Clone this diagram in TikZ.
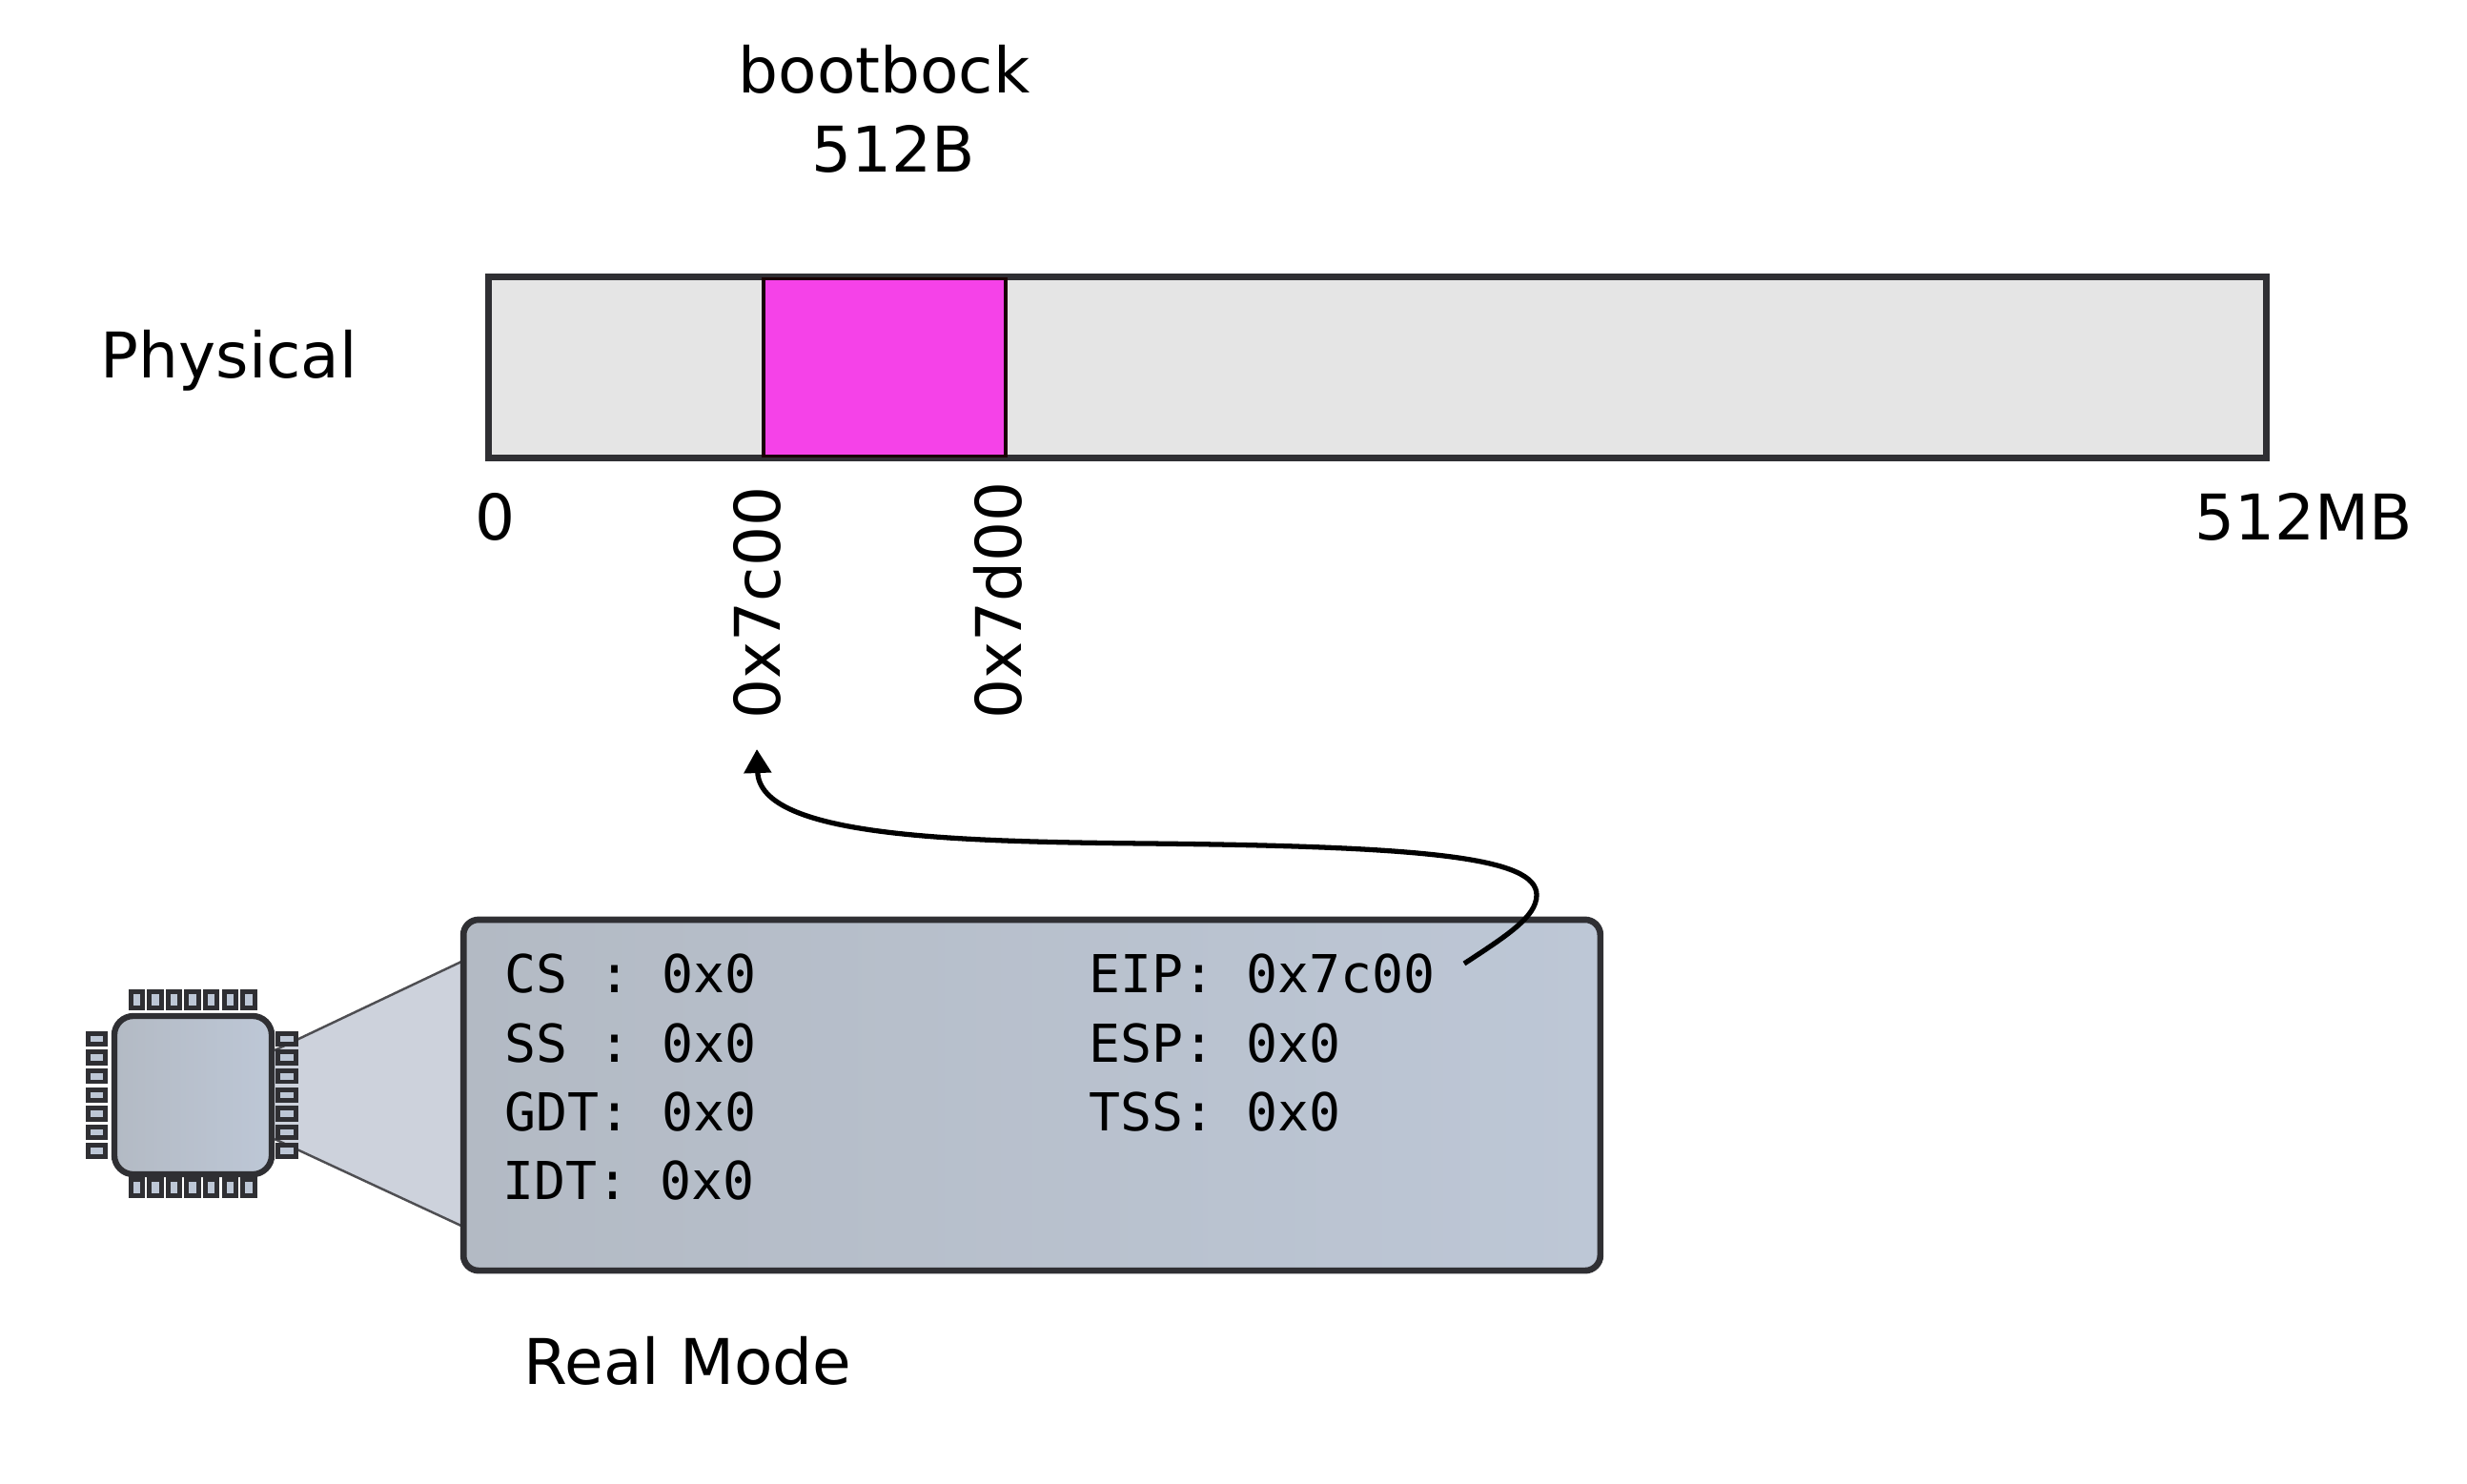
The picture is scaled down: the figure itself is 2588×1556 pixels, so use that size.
\documentclass[tikz,border=0pt]{standalone}
\usepackage{fontspec}
\setmainfont{DejaVu Sans}
\setmonofont{DejaVu Sans Mono}
\usetikzlibrary{arrows.meta, positioning}
\definecolor{edgedark}{HTML}{2F2F33}
\definecolor{chipleft}{HTML}{B3BAC4}
\definecolor{chipright}{HTML}{BDC7D6}
\definecolor{conefill}{HTML}{CDD2DC}
\definecolor{bootpink}{HTML}{F542E8}
\tikzset{
    label/.style={inner sep=0pt, font=\fontsize{18.8}{22}\selectfont, text=black},
    addr/.style={label, rotate=90, anchor=base west},
    reg/.style={inner sep=0pt, anchor=base west, font=\ttfamily\fontsize{15.6}{19}\selectfont},
    pinh/.style={draw=edgedark, line width=1.4pt, fill=chipright, minimum width=0.185cm, minimum height=0.115cm, inner sep=0pt},
    pinv/.style={draw=edgedark, line width=1.4pt, fill=chipright, minimum width=0.125cm, minimum height=0.165cm, inner sep=0pt},
}
\begin{document}
\begin{tikzpicture}[x=0.01cm,y=-0.01cm]
            \useasboundingbox (0,0) rectangle (2588,1556);

            % Physical memory bar
            \node[draw=edgedark, line width=2.1pt, fill=black!10, minimum width=18.64cm, minimum height=1.9cm, inner sep=0pt] (mem) at (1445,385.5) {};
            \node[draw=black!90!red, line width=0.95pt, fill=bootpink, minimum width=2.54cm, minimum height=1.86cm, inner sep=0pt] (boot) at (928,385.5) {};

            % Labels around the bar
            \node[label, anchor=base] (bootname) at (927.5,97) {bootbock};
            \node[label, anchor=base] (bootsize) at (937.5,180) {512B};
            \node[label, anchor=base west] (physical) at (105,396) {Physical};
            \node[label, anchor=base] (start) at (520,566) {0};
            \node[label, anchor=base west] (end) at (2302,566) {512MB};
            \node[addr] (addrc) at (818,755) {0x7c00};
            \node[addr] (addrd) at (1071,755) {0x7d00};

            % Cone from the chip to the registers
            \coordinate (conea) at (288,1102);
            \coordinate (coneb) at (288,1195);
            \coordinate (conec) at (486,1287);
            \coordinate (coned) at (486,1008);
            \fill[conefill] (conea) -- (coned) -- (conec) -- (coneb) -- cycle;
            \draw[edgedark!85, line width=0.7pt] (conea) -- (coned);
            \draw[edgedark!85, line width=0.7pt] (coneb) -- (conec);

            % Chip body and pins
            \node[draw=edgedark, line width=1.8pt, left color=chipleft, right color=chipright, rounded corners=0.2cm, minimum width=1.65cm, minimum height=1.66cm, inner sep=0pt] (chip) at (202.5,1149) {};
            \foreach \i in {0,...,6} {
                \node[pinv] (pintop\i) at ({143.3+19.6*\i},1049) {};
                \node[pinv] (pinbot\i) at ({143.3+19.6*\i},1246) {};
                \node[pinh] (pinleft\i) at (101.7,{1090+19.6*\i}) {};
                \node[pinh] (pinright\i) at (301,{1090+19.6*\i}) {};
            }

            % Register box
            \node[draw=edgedark, line width=1.9pt, left color=chipleft, right color=chipright, rounded corners=0.16cm, minimum width=11.92cm, minimum height=3.68cm, inner sep=0pt] (regs) at (1082.5,1149) {};
            \node[reg] (cs) at (529,1041) {CS : 0x0};
            \node[reg] (ss) at (529,1114) {SS : 0x0};
            \node[reg] (gdt) at (529,1186) {GDT: 0x0};
            \node[reg] (idt) at (527,1258) {IDT: 0x0};
            \node[reg] (eip) at (1141.5,1041) {EIP: 0x7c00};
            \node[reg] (esp) at (1141.5,1114) {ESP: 0x0};
            \node[reg] (tss) at (1141.5,1186) {TSS: 0x0};
            \node[label, anchor=base west] (mode) at (549,1452) {Real Mode};

            % Jump from EIP to the boot block address
            \coordinate (jumpfrom) at (1536,1011);
            \coordinate (jumpto) at (794,786);
            \draw[line width=1.5pt, -{Triangle[length=0.25cm,width=0.28cm]}] (jumpfrom) .. controls (1580,982) and (1612,962) .. (1612,939)
                .. controls (1612,900) and (1500,888) .. (1205,885)
                .. controls (1000,883) and (797,878) .. (jumpto);

\end{tikzpicture}
\end{document}
